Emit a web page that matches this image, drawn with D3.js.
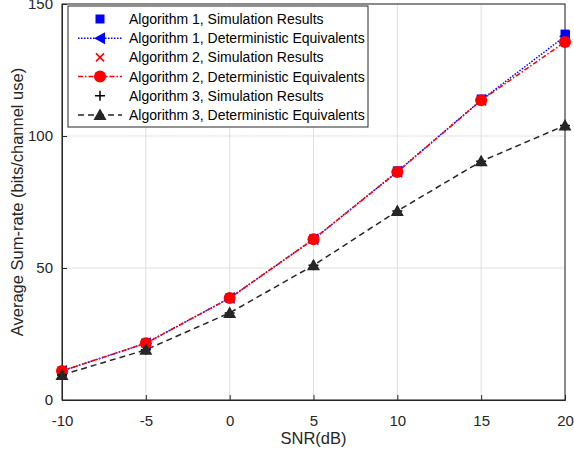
<!DOCTYPE html>
<html>
<head>
<meta charset="utf-8">
<style>
  body { margin: 0; background: #fff; }
  text { font-family: "Liberation Sans", Arial, sans-serif; }
</style>
</head>
<body>
<svg width="574" height="453"></svg>
<script src="https://d3js.org/d3.v7.min.js"></script>
<script>

var snr = [-10, -5, 0, 5, 10, 15, 20];

var alg1Sim = [11.0, 21.6, 38.7, 61.0, 86.8, 114.0, 138.6];
var alg1De  = [11.0, 21.5, 38.6, 60.9, 86.5, 113.6, 137.8];
var alg2Sim = [11.0, 21.5, 38.6, 60.9, 86.4, 113.5, 135.6];
var alg2De  = [11.0, 21.5, 38.6, 60.9, 86.4, 113.5, 135.6];
var alg3Sim = [9.5, 19.0, 33.0, 51.0, 71.6, 90.4, 104.0];
var alg3De  = [9.5, 19.0, 33.0, 51.0, 71.6, 90.4, 104.0];

var xTicks = [-10, -5, 0, 5, 10, 15, 20];
var yTicks = [0, 50, 100, 150];

var legendLabels = [
  "Algorithm 1, Simulation Results",
  "Algorithm 1, Deterministic Equivalents",
  "Algorithm 2, Simulation Results",
  "Algorithm 2, Deterministic Equivalents",
  "Algorithm 3, Simulation Results",
  "Algorithm 3, Deterministic Equivalents"
];

var svg = d3.select("svg"),
    pLeft = 62, pRight = 565, pTop = 4, pBottom = 400;

var x = d3.scaleLinear().domain([-10, 20]).range([pLeft, pRight]);
var y = d3.scaleLinear().domain([0, 150]).range([pBottom, pTop]);

var axisColor = "#262626";

// grid
var grid = svg.append("g").attr("stroke", "#dfdfdf").attr("stroke-width", 1);
xTicks.forEach(function(t) {
  grid.append("line").attr("x1", x(t)).attr("x2", x(t)).attr("y1", pTop).attr("y2", pBottom);
});
yTicks.forEach(function(t) {
  grid.append("line").attr("x1", pLeft).attr("x2", pRight).attr("y1", y(t)).attr("y2", y(t));
});

// box
svg.append("rect")
    .attr("x", pLeft).attr("y", pTop)
    .attr("width", pRight - pLeft).attr("height", pBottom - pTop)
    .attr("fill", "none").attr("stroke", axisColor).attr("stroke-width", 1);

// axes with inward ticks
var xAxis = svg.append("g").attr("transform", "translate(0," + pBottom + ")")
    .call(d3.axisBottom(x).tickValues(xTicks).tickSize(-5).tickPadding(15).tickFormat(function(d) { return String(d); }));
var yAxis = svg.append("g").attr("transform", "translate(" + pLeft + ",0)")
    .call(d3.axisLeft(y).tickValues(yTicks).tickSize(-5).tickPadding(9).tickFormat(function(d) { return String(d); }));
[xAxis, yAxis].forEach(function(a) {
  a.select(".domain").attr("stroke", axisColor);
  a.selectAll(".tick line").attr("stroke", axisColor);
  a.selectAll(".tick text").attr("fill", axisColor).style("font-size", "15px")
      .style("font-family", "Liberation Sans, Arial, sans-serif");
});

svg.append("text")
    .attr("x", (pLeft + pRight) / 2).attr("y", 444)
    .attr("text-anchor", "middle").attr("fill", axisColor)
    .style("font-size", "16.5px").text("SNR(dB)");
svg.append("text")
    .attr("transform", "translate(23," + ((pTop + pBottom) / 2) + ") rotate(-90)")
    .attr("text-anchor", "middle").attr("fill", axisColor)
    .style("font-size", "16.5px").text("Average Sum-rate (bits/channel use)");

// series definitions
var series = [
  {vals: alg1Sim, color: "#0000ff", dash: null, marker: "square", line: false},
  {vals: alg1De, color: "#0000ff", dash: "1.5,1.5", marker: "ltri", line: true},
  {vals: alg2Sim, color: "#ff0000", dash: null, marker: "x", line: false},
  {vals: alg2De, color: "#ff0000", dash: "5,2,1.5,2", marker: "circle", line: true},
  {vals: alg3Sim, color: "#000000", dash: null, marker: "plus", line: false},
  {vals: alg3De, color: "#262626", dash: "6,4", marker: "tri", line: true}
];

function drawMarker(g, type, cx, cy, color) {
  if (type === "square") {
    g.append("rect").attr("x", cx - 4.5).attr("y", cy - 4.5).attr("width", 9).attr("height", 9).attr("fill", color);
  } else if (type === "ltri") {
    g.append("path").attr("d", "M" + (cx - 6) + "," + cy + "L" + (cx + 5) + "," + (cy - 6) + "L" + (cx + 5) + "," + (cy + 6) + "Z").attr("fill", color);
  } else if (type === "x") {
    g.append("path").attr("d", "M" + (cx - 4) + "," + (cy - 4) + "L" + (cx + 4) + "," + (cy + 4) + "M" + (cx - 4) + "," + (cy + 4) + "L" + (cx + 4) + "," + (cy - 4))
        .attr("stroke", color).attr("stroke-width", 1.5).attr("fill", "none");
  } else if (type === "circle") {
    g.append("circle").attr("cx", cx).attr("cy", cy).attr("r", 6).attr("fill", color);
  } else if (type === "plus") {
    g.append("path").attr("d", "M" + (cx - 5) + "," + cy + "L" + (cx + 5) + "," + cy + "M" + cx + "," + (cy - 5) + "L" + cx + "," + (cy + 5))
        .attr("stroke", color).attr("stroke-width", 1.5).attr("fill", "none");
  } else if (type === "tri") {
    g.append("path").attr("d", "M" + cx + "," + (cy - 6.5) + "L" + (cx + 6.5) + "," + (cy + 5) + "L" + (cx - 6.5) + "," + (cy + 5) + "Z").attr("fill", color);
  }
}

var line = d3.line().x(function(d, i) { return x(snr[i]); }).y(function(d) { return y(d); });

var plot = svg.append("g");
series.forEach(function(s) {
  if (s.line) {
    plot.append("path").datum(s.vals).attr("d", line)
        .attr("fill", "none").attr("stroke", s.color).attr("stroke-width", 1.5)
        .attr("stroke-dasharray", s.dash);
  }
});
// markers drawn in order
series.forEach(function(s) {
  var mg = plot.append("g");
  s.vals.forEach(function(v, i) { drawMarker(mg, s.marker, x(snr[i]), y(v), s.color); });
});

// legend
var leg = svg.append("g");
leg.append("rect").attr("x", 68).attr("y", 6).attr("width", 300).attr("height", 121)
    .attr("fill", "#fff").attr("stroke", axisColor).attr("stroke-width", 1);
series.forEach(function(s, i) {
  var ly = 19 + i * 19.2;
  if (s.line) {
    leg.append("line").attr("x1", 78).attr("x2", 122).attr("y1", ly).attr("y2", ly)
        .attr("stroke", s.color).attr("stroke-width", 1.5).attr("stroke-dasharray", s.dash);
  }
  drawMarker(leg, s.marker, 100, ly, s.color);
  leg.append("text").attr("x", 129).attr("y", ly).attr("dy", "0.35em")
      .attr("fill", "#000").style("font-size", "14px").text(legendLabels[i]);
});

</script>
</body>
</html>
